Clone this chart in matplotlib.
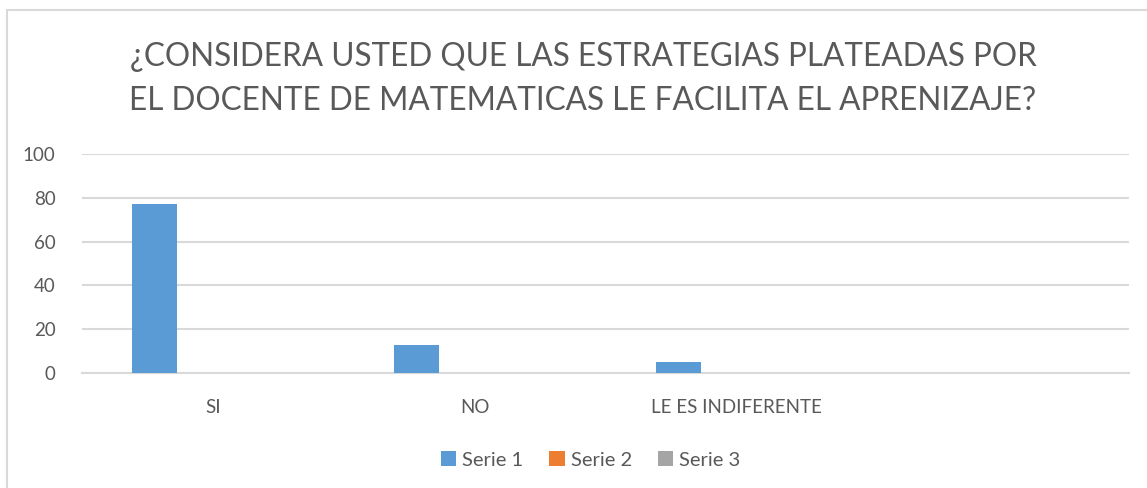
import numpy as np
import matplotlib.pyplot as plt
from matplotlib.patches import Rectangle

plt.rcParams["font.family"] = ["Lato", "DejaVu Sans"]

# ---- datos ----
categorias = ["SI", "NO", "LE ES INDIFERENTE", ""]
serie1 = [77, 13, 5, 0]
serie2 = [0, 0, 0, 0]
serie3 = [0, 0, 0, 0]
series = ["Serie 1", "Serie 2", "Serie 3"]
colores = ["#5b9bd5", "#ed7d31", "#a5a5a5"]
yticks = [0, 20, 40, 60, 80, 100]

texto = "#595959"
grid_c = "#d9d9d9"

fig = plt.figure(figsize=(11.47, 4.88), dpi=100)
ax = fig.add_axes([82 / 1147, 1 - 373 / 488, (1129 - 82) / 1147, (373 - 154) / 488])

x = np.arange(len(categorias))
ancho = 0.172
paso = 0.222
for i, (vals, nombre, c) in enumerate(zip([serie1, serie2, serie3], series, colores)):
    ax.bar(x + (i - 1) * paso, vals, width=ancho, color=c, label=nombre, zorder=3)

ax.set_xlim(-0.5, len(categorias) - 0.5)
ax.set_ylim(0, 100)
ax.set_yticks(yticks)
ax.set_xticks(x)
ax.set_xticklabels(categorias)
ax.tick_params(axis="both", length=0, colors=texto, labelsize=13.5)
ax.tick_params(axis="x", pad=19)
ax.tick_params(axis="y", pad=19)
ax.grid(True, axis="y", color=grid_c, linewidth=1.5, zorder=0)
for s in ["top", "right", "left"]:
    ax.spines[s].set_visible(False)
ax.spines["bottom"].set_color(grid_c)
ax.spines["bottom"].set_linewidth(1.5)

fig.text(583 / 1147, 1 - 79 / 488, "¿CONSIDERA USTED QUE LAS ESTRATEGIAS PLATEADAS POR\nEL DOCENTE DE MATEMATICAS LE FACILITA EL APRENIZAJE?",
         ha="center", va="center", fontsize=22.7, color=texto, linespacing=1.6)

fig.legend(loc="center", bbox_to_anchor=(0.515, 1 - 460 / 488), ncol=3, frameon=False,
           fontsize=14.5, labelcolor=texto, handlelength=0.75, handleheight=0.75,
           handletextpad=0.3, columnspacing=1.3)

# borde del gráfico
fig.patches.append(Rectangle((7 / 1147, -0.1), 1.2, 1 - 10 / 488 + 0.1, transform=fig.transFigure,
                             fill=False, edgecolor="#d9d9d9", linewidth=1.5))

fig.savefig("out.png", dpi=100)
